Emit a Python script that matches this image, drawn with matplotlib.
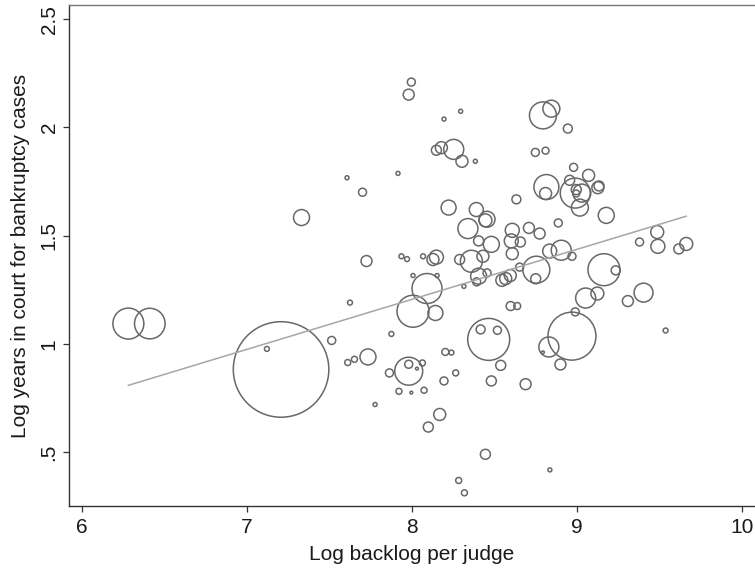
import numpy as np
import matplotlib.pyplot as plt

plt.rcParams["font.family"] = ["Liberation Sans", "DejaVu Sans"]

# log backlog per judge, log years in court, and analytic weight (marker area)
backlog = [
    6.28, 6.41, 7.206, 7.12, 7.513, 7.624, 7.61, 7.651, 7.733, 7.875,
    7.776, 7.863, 7.98, 7.921, 7.606, 7.70, 7.33, 7.724, 7.915, 7.936,
    7.97, 7.996, 7.98, 8.295, 8.194, 8.794, 8.845, 8.945, 8.148, 8.178,
    8.253, 8.303, 8.384, 8.748, 8.81, 8.815, 8.81, 8.98, 8.956, 9.071,
    8.99, 9.03, 8.996, 8.996, 9.018, 9.127, 9.134, 9.178, 8.222, 8.633,
    8.39, 8.455, 8.445, 8.339, 8.404, 8.481, 8.608, 8.709, 8.774, 8.887,
    8.602, 8.657, 8.608, 8.148, 8.127, 8.067, 8.289, 8.36, 8.43, 8.404,
    8.455, 8.392, 8.545, 8.568, 8.596, 8.653, 8.754, 8.75, 8.835, 8.905,
    8.97, 9.164, 9.235, 9.487, 9.491, 9.38, 9.618, 9.663, 8.006, 8.152,
    8.091, 8.006, 8.142, 8.315, 8.465, 8.416, 8.518, 8.202, 8.239, 7.98,
    8.03, 8.063, 7.996, 8.073, 8.194, 8.265, 8.538, 8.481, 8.689, 8.168,
    8.099, 8.445, 8.283, 8.318, 8.836, 9.538, 8.97, 8.99, 8.83, 8.794,
    8.9, 8.598, 8.638, 9.053, 9.124, 9.309, 9.404,
]
years = [
    1.093, 1.093, 0.881, 0.976, 1.015, 1.19, 0.913, 0.928, 0.939, 1.045,
    0.719, 0.865, 0.873, 0.78, 1.767, 1.70, 1.583, 1.382, 1.787, 1.404,
    1.391, 2.209, 2.151, 2.074, 2.038, 2.055, 2.086, 1.994, 1.894, 1.906,
    1.898, 1.843, 1.843, 1.884, 1.892, 1.724, 1.694, 1.815, 1.755, 1.778,
    1.696, 1.696, 1.712, 1.694, 1.629, 1.721, 1.729, 1.593, 1.629, 1.667,
    1.62, 1.575, 1.57, 1.532, 1.475, 1.459, 1.524, 1.535, 1.509, 1.558,
    1.475, 1.47, 1.416, 1.40, 1.389, 1.404, 1.389, 1.381, 1.404, 1.312,
    1.327, 1.286, 1.293, 1.301, 1.315, 1.354, 1.342, 1.30, 1.428, 1.432,
    1.404, 1.342, 1.339, 1.516, 1.45, 1.47, 1.438, 1.461, 1.315, 1.315,
    1.255, 1.15, 1.142, 1.265, 1.02, 1.066, 1.062, 0.962, 0.959, 0.905,
    0.885, 0.911, 0.774, 0.785, 0.828, 0.865, 0.90, 0.828, 0.813, 0.673,
    0.615, 0.489, 0.368, 0.311, 0.417, 1.061, 1.035, 1.147, 0.985, 0.96,
    0.904, 1.174, 1.174, 1.211, 1.232, 1.197, 1.236,
]
weight = [
    240, 234, 2285, 6, 16, 6, 9, 9, 64, 6,
    4, 16, 196, 9, 4, 16, 64, 30, 4, 6,
    6, 16, 30, 4, 4, 182, 72, 20, 25, 36,
    100, 36, 4, 16, 12, 156, 36, 16, 25, 36,
    225, 81, 25, 12, 72, 36, 25, 64, 56, 20,
    49, 64, 42, 100, 25, 64, 49, 30, 30, 16,
    49, 25, 36, 49, 36, 6, 25, 121, 36, 64,
    16, 16, 36, 36, 36, 16, 182, 25, 49, 100,
    16, 256, 20, 42, 49, 16, 25, 42, 4, 4,
    225, 256, 56, 4, 441, 20, 16, 12, 6, 16,
    2, 9, 2, 9, 16, 9, 25, 25, 30, 36,
    25, 25, 9, 9, 4, 6, 576, 16, 100, 2,
    30, 20, 12, 100, 42, 30, 90,
]

# weighted linear fit shown in the figure: slope, intercept
fit_coef = (0.231, -0.643)

x_ticks = [6, 7, 8, 9, 10]
y_ticks = [0.5, 1, 1.5, 2, 2.5]
y_ticklabels = [".5", "1", "1.5", "2", "2.5"]

fig = plt.figure(figsize=(7.55, 5.71), dpi=100)
ax = fig.add_axes([0.0914, 0.1138, 0.9086, 0.8774])

x = np.array(backlog)
y = np.array(years)
s = np.array(weight) * 2.07

ax.scatter(x, y, s=s, facecolors="none", edgecolors="#686868",
           linewidths=1.1, zorder=2)

xf = np.array([x.min(), x.max()])
ax.plot(xf, fit_coef[0] * xf + fit_coef[1], color="#a6a6a6", lw=1.1, zorder=3)

ax.set_xlim(5.92, 10.08)
ax.set_ylim(0.25, 2.565)
ax.set_xticks(x_ticks)
ax.set_yticks(y_ticks)
ax.set_yticklabels(y_ticklabels, rotation=90, va="center")

ax.spines["right"].set_visible(False)
for side in ("left", "bottom"):
    ax.spines[side].set_color("#333333")
    ax.spines[side].set_linewidth(1.0)
ax.spines["top"].set_color("#777777")
ax.spines["top"].set_linewidth(1.0)

ax.tick_params(axis="both", direction="out", length=4.5, width=0.9,
               color="#333333", labelsize=15, labelcolor="#1a1a1a")
ax.tick_params(axis="x", pad=4)
ax.tick_params(axis="y", pad=3)

ax.set_xlabel("Log backlog per judge", fontsize=15, color="#1a1a1a", labelpad=6)
ax.set_ylabel("Log years in court for bankruptcy cases", fontsize=15,
              color="#1a1a1a", labelpad=7)

fig.savefig("out.png", dpi=100)
